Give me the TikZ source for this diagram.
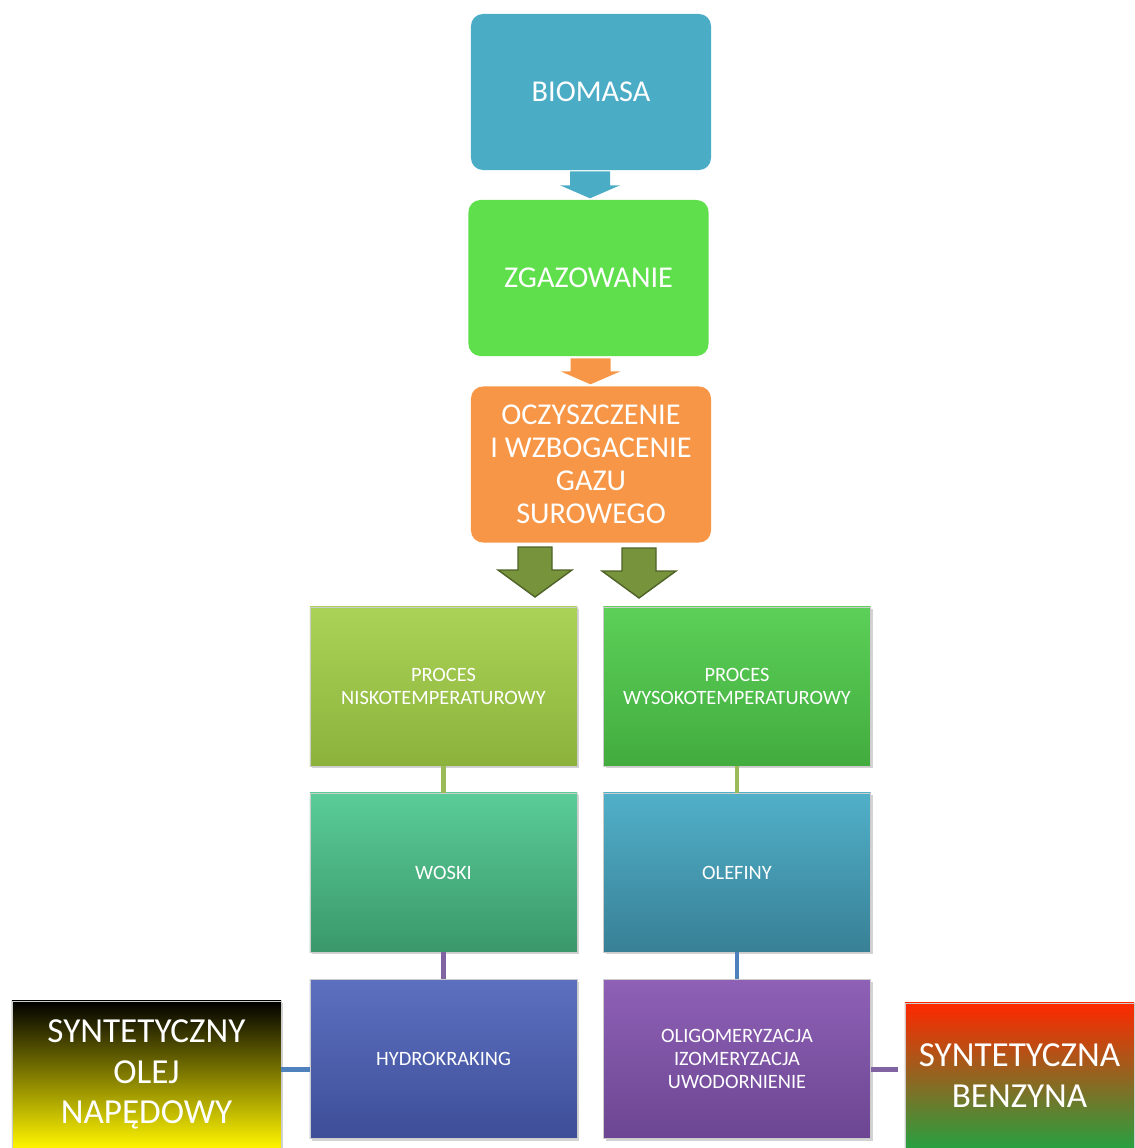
\documentclass[tikz,border=0pt]{standalone}
\usepackage{fontspec}
\setmainfont{Carlito}
\usetikzlibrary{calc,shadows}
\definecolor{bioblue}{HTML}{4BACC6}
\definecolor{gasgreen}{HTML}{5FDF4B}
\definecolor{cleanorange}{HTML}{F79646}
\definecolor{arrowolive}{HTML}{77933C}
\definecolor{arrowdark}{HTML}{4F6228}
\definecolor{linkolive}{HTML}{9BBB59}
\definecolor{linkpurple}{HTML}{8064A2}
\definecolor{linkblue}{HTML}{4F81BD}
\tikzset{
    topbox/.style={rounded corners=0.3cm, minimum width=6cm, minimum height=3.9cm,
        inner sep=0pt, text=white, align=center, font=\fontsize{21.5}{23.5}\selectfont},
    procbox/.style={minimum width=6.675cm, minimum height=3.975cm, inner sep=0pt,
        text=white, align=center, font=\fontsize{14.5}{16.3}\selectfont,
        draw=black!20, drop shadow={opacity=0.35, shadow xshift=0.06cm, shadow yshift=-0.06cm}},
    endbox/.style={inner sep=0pt, text=white, align=center, font=\fontsize{25}{29}\selectfont,
        draw=black!20, drop shadow={opacity=0.35, shadow xshift=0.06cm, shadow yshift=-0.06cm}},
    link/.style={line width=0.12cm},
    pics/blockarrow/.style n args={4}{code={
        \path[pic actions] (-#1,0) -- (#1,0) -- (#1,#3) -- (#2,#3) -- (0,#4)
            -- (-#2,#3) -- (-#1,#3) -- cycle;
    }},
}

\begin{document}
\begin{tikzpicture}[x=0.025cm, y=-0.025cm]
    \useasboundingbox (0,0) rectangle (1134,1148);

    % main line
    \node[topbox, fill=bioblue]     (bio)  at (591,92)    {BIOMASA};
    \node[topbox, fill=gasgreen]    (gas)  at (588.5,278) {ZGAZOWANIE};
    \node[topbox, fill=cleanorange] (oczy) at (591,464.5) {OCZYSZCZENIE\\I WZBOGACENIE\\GAZU\\SUROWEGO};

    \pic[fill=bioblue]     at ($(bio.south)+(-1,1)$) {blockarrow={20}{30}{14}{27}};
    \pic[fill=cleanorange] at ($(gas.south)+(2,2)$)  {blockarrow={20}{30}{13}{26}};

    % two branches
    \node[procbox, top color={rgb,255:red,170;green,211;blue,86},
        bottom color={rgb,255:red,140;green,178;blue,60}] (nisko) at (443.5,686.5) {PROCES\\NISKOTEMPERATUROWY};
    \node[procbox, top color={rgb,255:red,92;green,208;blue,88},
        bottom color={rgb,255:red,66;green,172;blue,62}] (wysoko) at (737,686.5) {PROCES\\WYSOKOTEMPERATUROWY};

    \pic[fill=arrowolive, draw=arrowdark, line width=1pt] at (535,547) {blockarrow={17}{37}{23}{50}};
    \pic[fill=arrowolive, draw=arrowdark, line width=1pt] at (639,548) {blockarrow={17}{37}{23}{50}};

    \node[procbox, top color={rgb,255:red,90;green,204;blue,152},
        bottom color={rgb,255:red,58;green,152;blue,106}] (woski) at (443.5,872.5) {WOSKI};
    \node[procbox, top color={rgb,255:red,80;green,176;blue,200},
        bottom color={rgb,255:red,56;green,128;blue,150}] (olefiny) at (737,872.5) {OLEFINY};

    \node[procbox, top color={rgb,255:red,92;green,112;blue,192},
        bottom color={rgb,255:red,62;green,78;blue,152}] (hydro) at (443.5,1059) {HYDROKRAKING};
    \node[procbox, top color={rgb,255:red,142;green,96;blue,182},
        bottom color={rgb,255:red,108;green,70;blue,146}] (oligo) at (737,1059) {OLIGOMERYZACJA\\IZOMERYZACJA\\UWODORNIENIE};

    % products
    \node[endbox, minimum width=6.725cm, minimum height=3.675cm,
        top color=black, bottom color={rgb,255:red,255;green,245;blue,0}] (olej) at (146.5,1074.5) {SYNTETYCZNY\\OLEJ\\NAPĘDOWY};
    \node[endbox, minimum width=5.725cm, minimum height=3.625cm,
        top color={rgb,255:red,255;green,40;blue,0}, bottom color={rgb,255:red,40;green,160;blue,64}] (benz) at (1019.5,1075.5) {SYNTETYCZNA\\BENZYNA};

    \coordinate (olejlink) at ($(olej.east)+(0,-5)$);
    \coordinate (benzlink) at ($(benz.west)+(-7,-6)$);

    \draw[link, linkolive]  (nisko)   -- (woski);
    \draw[link, linkolive]  (wysoko)  -- (olefiny);
    \draw[link, linkpurple] (woski)   -- (hydro);
    \draw[link, linkblue]   (olefiny) -- (oligo);
    \draw[link, linkblue]   (olejlink) -- (olejlink -| hydro.west);
    \draw[link, linkpurple] (benzlink -| oligo.east) -- (benzlink);
\end{tikzpicture}
\end{document}
